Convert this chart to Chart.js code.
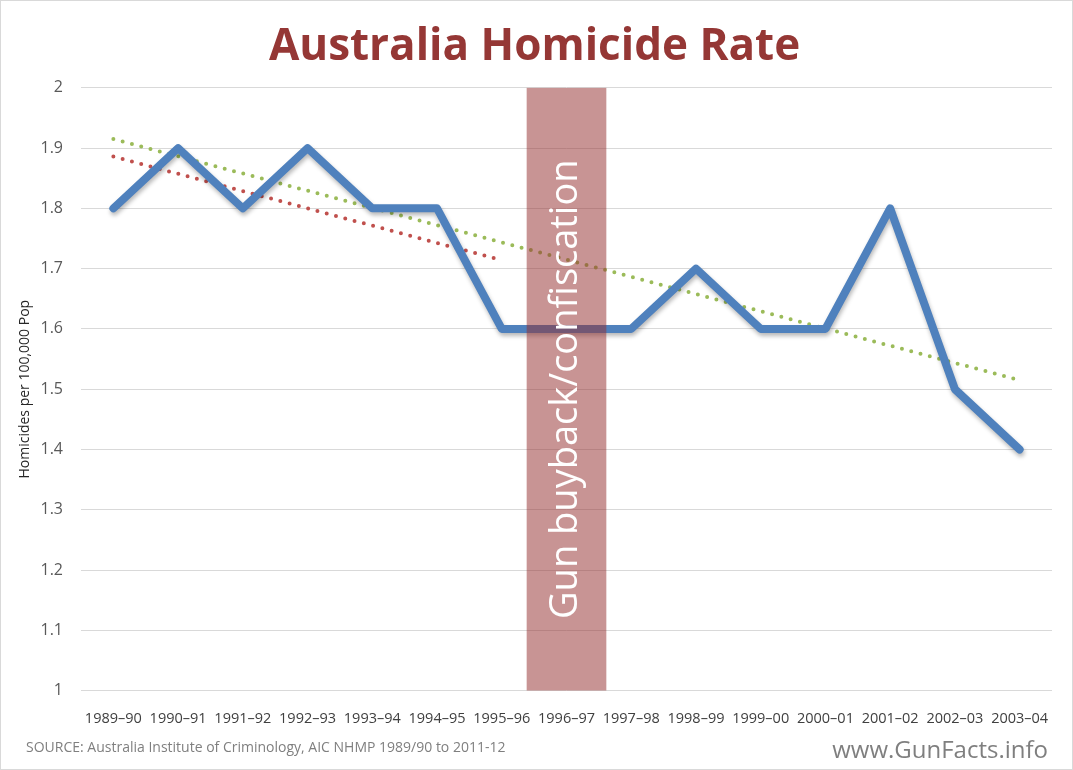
<!DOCTYPE html>
<html>
<head>
<meta charset="utf-8">
<script src="https://cdn.jsdelivr.net/npm/chart.js@4.4.1/dist/chart.umd.min.js"></script>
<style>
  html, body { margin: 0; padding: 0; background: #fff; }
  #wrap { position: relative; width: 1073px; height: 770px; box-sizing: border-box; border: 1px solid #d9d9d9; overflow: hidden; }
  #chart { position: absolute; left: 0; top: 0; }
  .note { position: absolute; font-family: "Open Sans", sans-serif; color: #7f7f7f; white-space: nowrap; }
  #source { left: 25px; top: 736px; font-size: 14px; }
  #site { right: 24px; top: 731px; font-size: 24px; }
</style>
</head>
<body>
<div id="wrap">
  <canvas id="chart" width="1073" height="770"></canvas>
  <div class="note" id="source">SOURCE: Australia Institute of Criminology, AIC NHMP 1989/90 to 2011-12</div>
  <div class="note" id="site">www.GunFacts.info</div>
</div>
<script>
// financial years
const categories = ['1989–90', '1990–91', '1991–92', '1992–93', '1993–94', '1994–95', '1995–96',
    '1996–97', '1997–98', '1998–99', '1999–00', '2000–01', '2001–02', '2002–03', '2003–04'];

// homicides per 100,000 population
const homicideRate = [1.8, 1.9, 1.8, 1.9, 1.8, 1.8, 1.6, 1.6, 1.6, 1.7, 1.6, 1.6, 1.8, 1.5, 1.4];

// trend before the buyback (endpoints only, straight line)
const trendBefore = [1.886, null, null, null, null, null, 1.714, null, null, null, null, null, null, null, null];

// trend over the whole period
const trendAll = [1.915, null, null, null, null, null, null, null, null, null, null, null, null, null, 1.515];

// buyback band (floating bar)
const buybackBand = [null, null, null, null, null, null, null, [1, 2], null, null, null, null, null, null, null];

const yMin = 1;
const yMax = 2;
const yStep = 0.1;

const bandLabel = 'Gun buyback/confiscation';

const lineShadow = {
    id: 'lineShadow',
    beforeDatasetDraw(chart, args) {
        if (args.index !== 0) return;
        const ctx = chart.ctx;
        ctx.save();
        ctx.shadowColor = 'rgba(0,0,0,0.28)';
        ctx.shadowBlur = 4;
        ctx.shadowOffsetX = 1;
        ctx.shadowOffsetY = 3;
    },
    afterDatasetDraw(chart, args) {
        if (args.index !== 0) return;
        chart.ctx.restore();
    }
};

const bandText = {
    id: 'bandText',
    afterDatasetsDraw(chart) {
        const ctx = chart.ctx;
        const x = chart.scales.x.getPixelForValue(7);
        const y = (chart.scales.y.getPixelForValue(yMin) + chart.scales.y.getPixelForValue(yMax)) / 2;
        ctx.save();
        ctx.translate(x, y);
        ctx.rotate(-Math.PI / 2);
        ctx.fillStyle = '#ffffff';
        ctx.font = '38px "Open Sans", sans-serif';
        ctx.textAlign = 'center';
        ctx.textBaseline = 'middle';
        ctx.fillText(bandLabel, 0, 0);
        ctx.restore();
    }
};

const ctx = document.getElementById('chart').getContext('2d');
new Chart(ctx, {
    data: {
        labels: categories,
        datasets: [
            {
                type: 'line',
                label: 'Homicide rate',
                data: homicideRate,
                borderColor: '#4f81bd',
                borderWidth: 8,
                borderCapStyle: 'round',
                borderJoinStyle: 'round',
                pointRadius: 0,
                tension: 0,
                order: 1
            },
            {
                type: 'line',
                label: 'Trend to 1995–96',
                data: trendBefore,
                borderColor: '#c0504d',
                borderWidth: 4,
                borderDash: [0, 9.6],
                borderCapStyle: 'round',
                pointRadius: 0,
                spanGaps: true,
                order: 2
            },
            {
                type: 'line',
                label: 'Trend',
                data: trendAll,
                borderColor: '#9bbb59',
                borderWidth: 4,
                borderDash: [0, 9.6],
                borderCapStyle: 'round',
                pointRadius: 0,
                spanGaps: true,
                order: 3
            },
            {
                type: 'bar',
                label: 'Buyback',
                data: buybackBand,
                backgroundColor: 'rgba(150, 50, 50, 0.52)',
                borderWidth: 0,
                barThickness: 79,
                grouped: false,
                order: 0
            }
        ]
    },
    options: {
        responsive: false,
        animation: false,
        layout: { padding: { left: 16, right: 22, top: 0, bottom: 31 } },
        plugins: {
            legend: { display: false },
            tooltip: { enabled: false },
            title: {
                display: true,
                text: 'Australia Homicide Rate',
                color: '#953735',
                font: { family: '"Open Sans", sans-serif', size: 44, weight: 'bold' },
                padding: { top: 20, bottom: 14 }
            }
        },
        scales: {
            x: {
                offset: true,
                grid: { display: false },
                border: { display: false },
                ticks: {
                    color: '#404040',
                    font: { family: '"Open Sans", sans-serif', size: 14.5 },
                    maxRotation: 0,
                    autoSkip: false,
                    padding: 12
                }
            },
            y: {
                min: yMin,
                max: yMax,
                afterFit: scale => { scale.width = 64; },
                grid: { color: '#d9d9d9', drawTicks: false },
                border: { display: false },
                ticks: {
                    stepSize: yStep,
                    color: '#595959',
                    font: { family: '"Open Sans", sans-serif', size: 16 },
                    padding: 18,
                    callback: v => String(Number(v.toFixed(1)))
                },
                title: {
                    display: true,
                    text: 'Homicides per 100,000 Pop',
                    color: '#262626',
                    font: { family: '"Open Sans", sans-serif', size: 14 },
                    padding: { top: 0, bottom: 5 }
                }
            }
        }
    },
    plugins: [lineShadow, bandText]
});
</script>
</body>
</html>
